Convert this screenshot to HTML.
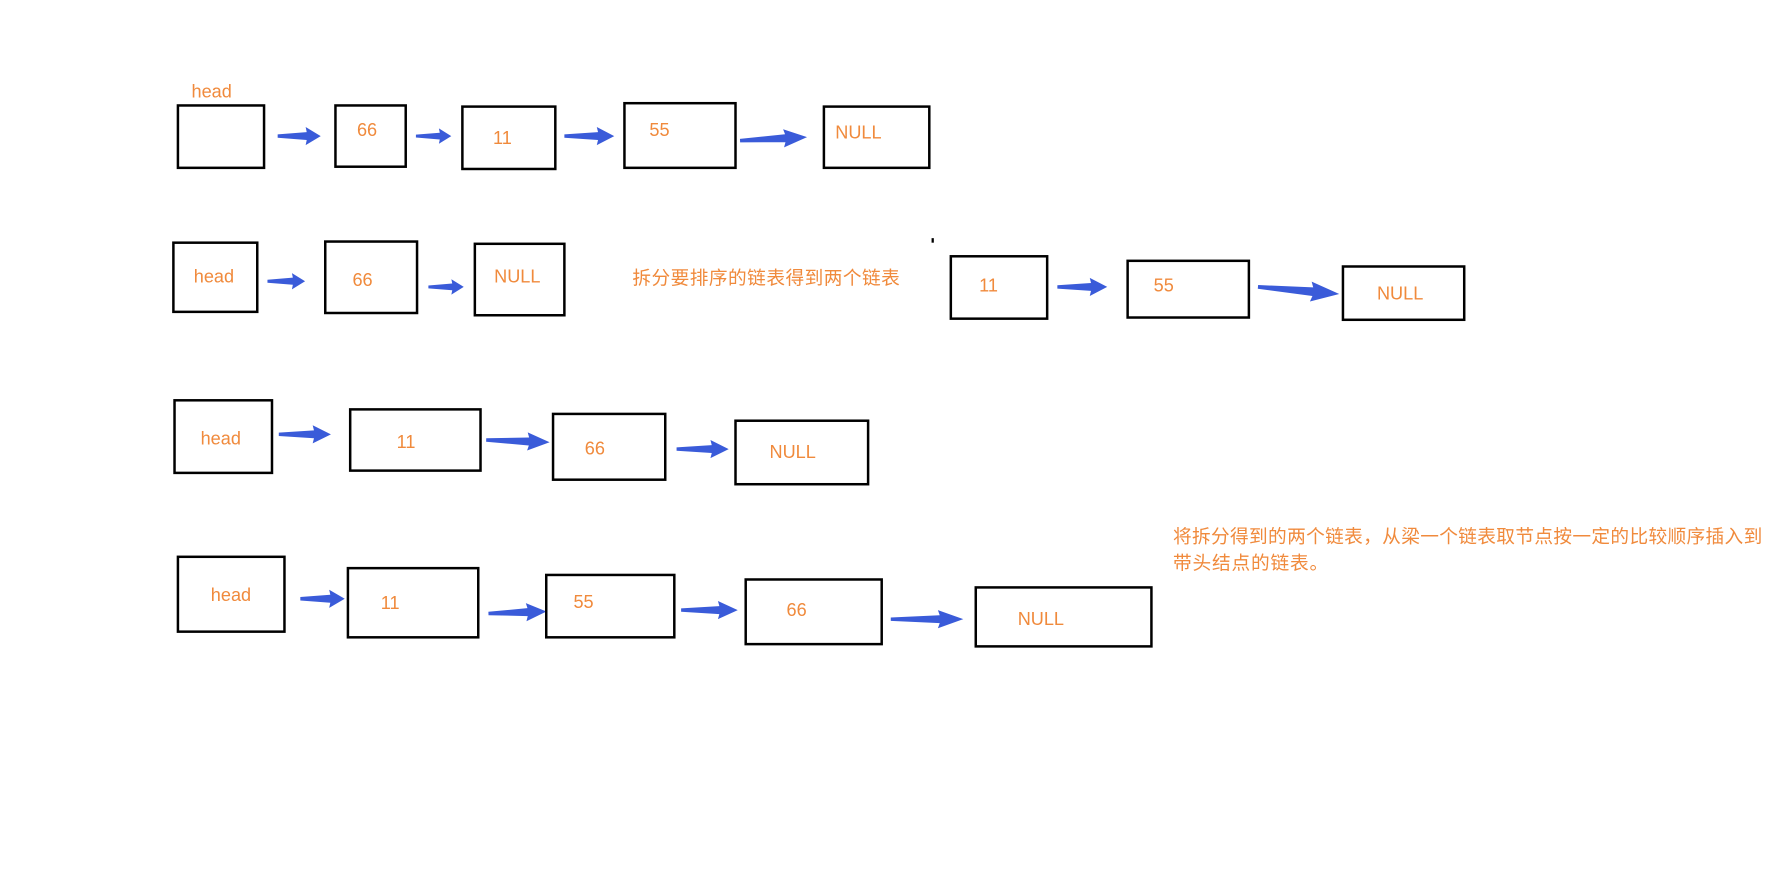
<!DOCTYPE html>
<html><head><meta charset="utf-8"><style>
html,body{margin:0;padding:0;background:#fff;}
svg{display:block}
text{font-family:"Liberation Sans","Noto Sans CJK SC",sans-serif;fill:#f08a3c;font-size:16px}
.c{font-size:16.5px}
rect{fill:none;stroke:#000;stroke-width:2.2}
.a{fill:#3a5bd9}
</style></head><body>
<svg width="1777" height="880" viewBox="0 0 1568 776" preserveAspectRatio="none">
<defs><path id="ar" d="M0,-1.5 L27,-3.5 L26,-8 L40,0 L26,8 L27,3.5 L0,1.5 Z"/></defs>
<!-- Row 1 -->
<text x="169" y="86">head</text>
<rect x="157" y="93" width="76" height="55"/>
<use href="#ar" class="a" transform="translate(245,120) scale(0.95,1)"/>
<rect x="296" y="93" width="62" height="54"/><text x="315" y="120">66</text>
<use href="#ar" class="a" transform="translate(367,120) scale(0.78,0.85)"/>
<rect x="408" y="94" width="82" height="55"/><text x="435" y="127">11</text>
<use href="#ar" class="a" transform="translate(498,120) scale(1.1,1)"/>
<rect x="551" y="91" width="98" height="57"/><text x="573" y="120">55</text>
<use href="#ar" class="a" transform="translate(653,124) rotate(-3) scale(1.48,1)"/>
<rect x="727" y="94" width="93" height="54"/><text x="737" y="122">NULL</text>
<!-- Row 2 -->
<rect x="153" y="214" width="74" height="61"/><text x="171" y="249">head</text>
<use href="#ar" class="a" transform="translate(236,248) scale(0.83,0.9)"/>
<rect x="287" y="213" width="81" height="63"/><text x="311" y="252">66</text>
<use href="#ar" class="a" transform="translate(378,253) scale(0.78,0.85)"/>
<rect x="419" y="215" width="79" height="63"/><text x="436" y="249">NULL</text>
<text class="c" x="558" y="251" textLength="236">拆分要排序的链表得到两个链表</text>
<rect x="822" y="210" width="2" height="4" style="fill:#000;stroke:none"/>
<rect x="839" y="226" width="85" height="55"/><text x="864" y="257">11</text>
<use href="#ar" class="a" transform="translate(933,253) scale(1.1,1)"/>
<rect x="995" y="230" width="107" height="50"/><text x="1018" y="257">55</text>
<use href="#ar" class="a" transform="translate(1110,253) rotate(5) scale(1.8,1.1)"/>
<rect x="1185" y="235" width="107" height="47"/><text x="1215" y="264">NULL</text>
<!-- Row 3 -->
<rect x="154" y="353" width="86" height="64"/><text x="177" y="392">head</text>
<use href="#ar" class="a" transform="translate(246,383) scale(1.15,1)"/>
<rect x="309" y="361" width="115" height="54"/><text x="350" y="395">11</text>
<use href="#ar" class="a" transform="translate(429,388) rotate(2) scale(1.4,1)"/>
<rect x="488" y="365" width="99" height="58"/><text x="516" y="401">66</text>
<use href="#ar" class="a" transform="translate(597,396) scale(1.15,1)"/>
<rect x="649" y="371" width="117" height="56"/><text x="679" y="404">NULL</text>
<!-- Row 4 -->
<rect x="157" y="491" width="94" height="66"/><text x="186" y="530">head</text>
<use href="#ar" class="a" transform="translate(265,528) scale(0.98,1)"/>
<rect x="307" y="501" width="115" height="61"/><text x="336" y="537">11</text>
<use href="#ar" class="a" transform="translate(431,541) rotate(-2) scale(1.28,1)"/>
<rect x="482" y="507" width="113" height="55"/><text x="506" y="536">55</text>
<use href="#ar" class="a" transform="translate(601,538) scale(1.25,1)"/>
<rect x="658" y="511" width="120" height="57"/><text x="694" y="543">66</text>
<use href="#ar" class="a" transform="translate(786,546) scale(1.6,1)"/>
<rect x="861" y="518" width="155" height="52"/><text x="898" y="551">NULL</text>
<text class="c" x="1035" y="479" textLength="520">将拆分得到的两个链表，从梁一个链表取节点按一定的比较顺序插入到</text>
<text class="c" x="1035" y="502" textLength="137">带头结点的链表。</text>
</svg>
</body></html>
